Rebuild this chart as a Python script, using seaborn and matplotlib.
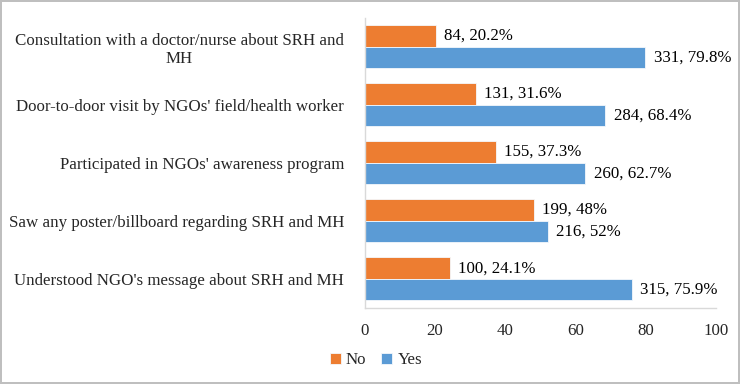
import matplotlib
matplotlib.use("Agg")
import matplotlib.pyplot as plt
import seaborn as sns
import pandas as pd

categories = [
    "Consultation with a doctor/nurse about SRH and\nMH",
    "Door-to-door visit by NGOs' field/health worker",
    "Participated in NGOs' awareness program",
    "Saw any poster/billboard regarding SRH and MH",
    "Understood NGO's message about SRH and MH",
]
no_counts = [84, 131, 155, 199, 100]
no_pct = [20.2, 31.6, 37.3, 48.0, 24.1]
yes_counts = [331, 284, 260, 216, 315]
yes_pct = [79.8, 68.4, 62.7, 52.0, 75.9]
series = ["No", "Yes"]
colors = {"No": "#ED7D31", "Yes": "#5B9BD5"}
x_ticks = [0, 20, 40, 60, 80, 100]

rows = []
for c, n, p in zip(categories, no_counts, no_pct):
    rows.append({"cat": c, "series": "No", "pct": p, "count": n})
for c, n, p in zip(categories, yes_counts, yes_pct):
    rows.append({"cat": c, "series": "Yes", "pct": p, "count": n})
df = pd.DataFrame(rows)

sns.set_style("white")
plt.rcParams["font.family"] = ["Liberation Serif", "DejaVu Serif"]
FS = 12.2

fig = plt.figure(figsize=(7.4, 3.84), dpi=100, edgecolor="#BFBFBF", linewidth=1.5)
ax = fig.add_axes([0.493, 0.198, 0.475, 0.756])

sns.barplot(data=df, y="cat", x="pct", hue="series", order=categories,
            hue_order=series, palette=colors, saturation=1, orient="h",
            width=0.74, gap=0, edgecolor="#F4F8FC", linewidth=0.6, ax=ax,
            legend=True)

for cont, s in zip(ax.containers, series):
    sub = df[df.series == s].set_index("cat").loc[categories]
    labels = [f"{int(c)}, {p:g}%" for c, p in zip(sub["count"], sub["pct"])]
    ax.bar_label(cont, labels=labels, padding=6, fontsize=FS, color="black")

ax.set_xlim(0, 100)
ax.set_xticks(x_ticks)
ax.set_xticklabels([str(t) for t in x_ticks], fontsize=FS)
ax.tick_params(axis="x", length=0, pad=11)
ax.tick_params(axis="y", length=0, pad=15, labelsize=FS)
for lab in ax.get_yticklabels():
    lab.set_multialignment("center")
ax.set_xlabel("")
ax.set_ylabel("")
for side in ["top", "right"]:
    ax.spines[side].set_visible(False)
ax.spines["left"].set_color("#D9D9D9")
ax.spines["bottom"].set_color("#D9D9D9")
ax.spines["left"].set_linewidth(1)
ax.spines["bottom"].set_linewidth(1)
ax.grid(False)

handles, labs = ax.get_legend_handles_labels()
ax.legend_.remove()
fig.legend(handles, labs, loc="center", bbox_to_anchor=(0.508, 0.062),
           ncol=2, frameon=False, fontsize=FS, handlelength=0.65,
           handleheight=0.65, handletextpad=0.3, columnspacing=0.9)

fig.savefig("out.png", dpi=100, edgecolor=fig.get_edgecolor())
